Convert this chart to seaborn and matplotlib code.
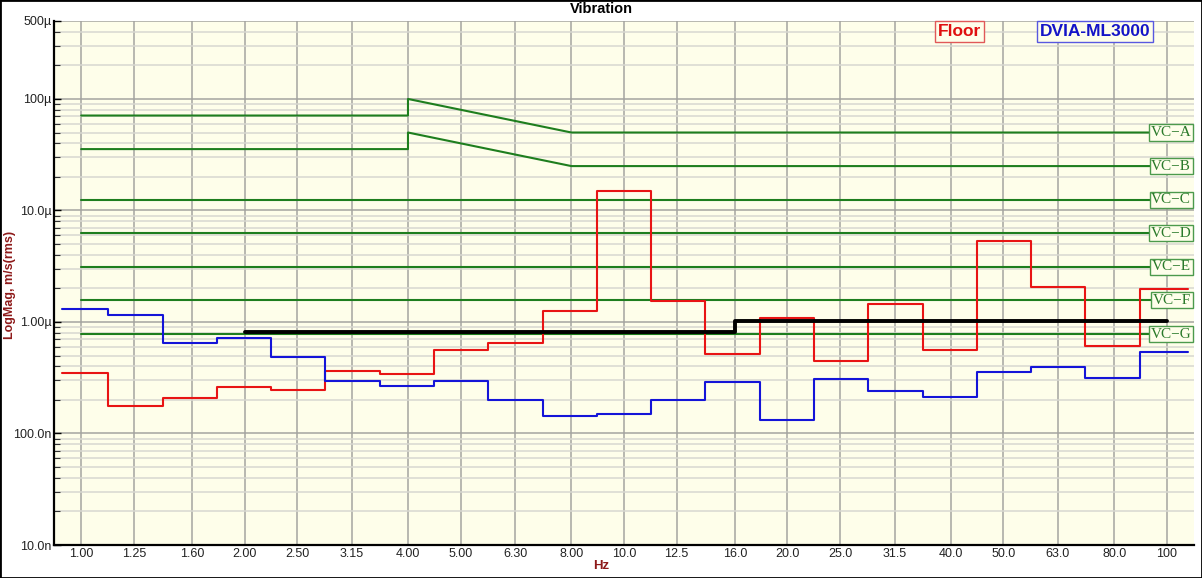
import numpy as np
import pandas as pd
import matplotlib
matplotlib.use("Agg")
import matplotlib.pyplot as plt
import seaborn as sns
from matplotlib.ticker import FixedLocator, FixedFormatter, NullFormatter, NullLocator, LogLocator
from matplotlib.transforms import blended_transform_factory
from matplotlib.patches import Rectangle

# ---------------- data ----------------
band_labels = ["1.00", "1.25", "1.60", "2.00", "2.50", "3.15", "4.00", "5.00", "6.30", "8.00",
               "10.0", "12.5", "16.0", "20.0", "25.0", "31.5", "40.0", "50.0", "63.0", "80.0", "100"]
band_hz = [1.0, 1.25, 1.6, 2.0, 2.5, 3.15, 4.0, 5.0, 6.3, 8.0,
           10.0, 12.5, 16.0, 20.0, 25.0, 31.5, 40.0, 50.0, 63.0, 80.0, 100.0]

# 1/3-octave band levels, µm/s rms
floor_um = [0.352, 0.177, 0.206, 0.260, 0.243, 0.366, 0.343, 0.565, 0.653, 1.26,
            14.8, 1.55, 0.517, 1.09, 0.451, 1.45, 0.561, 5.31, 2.06, 0.610, 1.97]
dvia_um = [1.31, 1.15, 0.644, 0.714, 0.483, 0.294, 0.267, 0.294, 0.199, 0.144,
           0.148, 0.198, 0.289, 0.131, 0.311, 0.238, 0.212, 0.357, 0.396, 0.315, 0.542]
band_start_hz = 0.923
band_end_hz = 109.3

# black limit line (step)
limit_hz = [2.0, 16.0, 100.0]
limit_um = [0.81, 1.015, 1.015]

# VC criteria curves
vc_names = ["VC\u2212A", "VC\u2212B", "VC\u2212C", "VC\u2212D", "VC\u2212E", "VC\u2212F", "VC\u2212G"]
vc_ab_hz = [1.0, 4.0, 4.0, 8.0, 100.0]
vc_a_um = [71.0, 71.0, 100.0, 50.0, 50.0]
vc_b_um = [35.5, 35.5, 50.0, 25.0, 25.0]
vc_flat_hz = [1.0, 100.0]
vc_flat_um = [12.5, 6.25, 3.12, 1.56, 0.78]

y_tick_vals = [5e-4, 1e-4, 1e-5, 1e-6, 1e-7, 1e-8]
y_tick_labels = ["500\u00b5", "100\u00b5", "10.0\u00b5", "1.00\u00b5", "100.0n", "10.0n"]

# ---------------- style ----------------
sns.set_style("white")
plt.rcParams["font.family"] = ["Liberation Sans", "DejaVu Sans"]

BG = "#FEFEEA"
RED = "#E81414"
BLUE = "#1414D8"
GREEN = "#1E7E1E"

fig = plt.figure(figsize=(12.02, 5.78), dpi=100)
fig.patch.set_facecolor("white")
ax = fig.add_axes([54 / 1202, 1 - 545 / 578, (1194 - 54) / 1202, (545 - 21) / 578])
ax.set_facecolor(BG)
ax.set_xscale("log")
ax.set_yscale("log")

# band edges for step drawing
k = np.arange(len(band_hz))
inner_edges = list(10 ** ((k[:-1] + 0.5) / 10.0))
edges = [band_start_hz] + inner_edges + [band_end_hz]


def step_series(vals_um):
    v = [x * 1e-6 for x in vals_um]
    return pd.DataFrame({"hz": edges, "v": v + [v[-1]]})


for vals, col in [(floor_um, RED), (dvia_um, BLUE)]:
    d = step_series(vals)
    sns.lineplot(data=d, x="hz", y="v", ax=ax, color=col, linewidth=1.5,
                 drawstyle="steps-post", estimator=None, sort=False, zorder=4)

# VC lines
vc_curves = [(vc_ab_hz, vc_a_um), (vc_ab_hz, vc_b_um)] + [(vc_flat_hz, [u, u]) for u in vc_flat_um]
tr = blended_transform_factory(ax.transAxes, ax.transData)
for name, (fx, fy) in zip(vc_names, vc_curves):
    d = pd.DataFrame({"hz": fx, "v": [u * 1e-6 for u in fy]})
    sns.lineplot(data=d, x="hz", y="v", ax=ax, color=GREEN, linewidth=1.5,
                 estimator=None, sort=False, zorder=3)
    ax.text(0.9975, fy[-1] * 1e-6, name, transform=tr, ha="right", va="center",
            fontsize=11, family=["Liberation Serif", "DejaVu Serif"], color="#2A7A2A", zorder=6,
            bbox=dict(boxstyle="square,pad=0.1", fc=BG, ec="#4C9A4C", lw=1.0))

# black limit line
d = pd.DataFrame({"hz": limit_hz, "v": [u * 1e-6 for u in limit_um]})
sns.lineplot(data=d, x="hz", y="v", ax=ax, color="black", linewidth=2.8,
             drawstyle="steps-post", estimator=None, sort=False, zorder=5)

ax.set_xlim(10 ** -0.05, 10 ** 2.05)
ax.set_ylim(1e-8, 5e-4)

ax.xaxis.set_major_locator(FixedLocator(band_hz))
ax.xaxis.set_major_formatter(FixedFormatter(band_labels))
ax.xaxis.set_minor_locator(NullLocator())
ax.yaxis.set_major_locator(FixedLocator(y_tick_vals))
ax.yaxis.set_major_formatter(FixedFormatter(y_tick_labels))
ax.yaxis.set_minor_locator(LogLocator(base=10, subs=np.arange(2, 10)))
ax.yaxis.set_minor_formatter(NullFormatter())

ax.set_axisbelow(True)
ax.grid(which="major", axis="both", color="#A4A4A0", linewidth=1.1)
ax.grid(which="minor", axis="y", color="#D8D8D0", linewidth=1.1)

ax.tick_params(axis="y", which="major", direction="in", length=5, width=1, color="black",
               pad=2, labelsize=9, labelcolor="#222222", left=True)
ax.tick_params(axis="y", which="minor", direction="in", length=4, width=0.8, color="#333333", left=True)
ax.tick_params(axis="x", which="both", length=0, pad=2, labelsize=9, labelcolor="#222222")

for s in ["top", "right"]:
    ax.spines[s].set_visible(False)
for s in ["left", "bottom"]:
    ax.spines[s].set_color("black")
    ax.spines[s].set_linewidth(1.6)

ax.set_xlabel("")
ax.set_ylabel("")

# titles and labels
fig.text(0.5, 1 - 13 / 578, "Vibration", ha="center", va="baseline", fontsize=10.5, weight="bold", color="black")
fig.text(10 / 1202, 1 - 285 / 578, "LogMag, m/s(rms)", ha="center", va="center", rotation=90,
         fontsize=9, weight="bold", color="#8E1A1A")
fig.text(601 / 1202, 1 - 566 / 578, "Hz", ha="center", va="center", fontsize=9.5, weight="bold", color="#8E1A1A")

# legend boxes
fig.text(959.5 / 1202, 1 - 31.5 / 578, "Floor", ha="center", va="center", fontsize=12.5, weight="bold",
         color="#E01010", zorder=7,
         bbox=dict(boxstyle="square,pad=0.15", fc=BG, ec="#E05858", lw=1.0))
fig.text(1095 / 1202, 1 - 31.5 / 578, "DVIA-ML3000", ha="center", va="center", fontsize=12.5, weight="bold",
         color="#1414C8", zorder=7,
         bbox=dict(boxstyle="square,pad=0.15", fc=BG, ec="#5858E0", lw=1.0))

# outer frame
fig.patches.append(Rectangle((0, 0), 1, 1, transform=fig.transFigure, fill=False,
                             edgecolor="black", linewidth=2.0))

fig.savefig("out.png", dpi=100, facecolor="white")
